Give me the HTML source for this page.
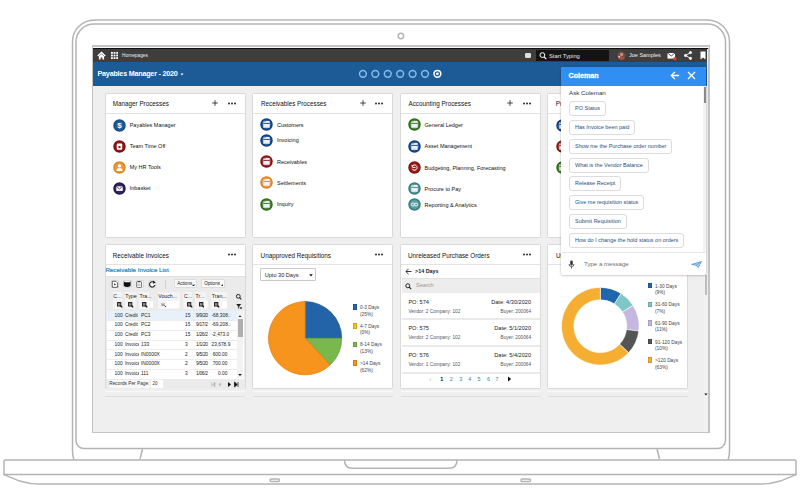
<!DOCTYPE html>
<html><head><meta charset="utf-8">
<style>
*{margin:0;padding:0;box-sizing:border-box}
html,body{width:800px;height:498px;overflow:hidden;background:#fff;font-family:"Liberation Sans",sans-serif}
.a{position:absolute;white-space:nowrap}
#frame{position:absolute;left:0;top:0}
#scr{position:absolute;left:92px;top:45px;width:618px;height:388px;background:#c4c4c4}
#in{position:absolute;left:1px;top:3px;width:614.8px;height:384px;background:#efefef;overflow:hidden;border-top:1px solid #111}
#scr:before{content:"";position:absolute;left:1px;right:1px;top:1.8px;height:1.2px;background:#fafafa}
#topbar{position:absolute;left:0;top:0;width:614px;height:12.5px;background:#3e3e3e}
#bluebar{position:absolute;left:0;top:12.5px;width:614px;height:24px;background:#1d5b97}
.card{position:absolute;background:#fff;border:1px solid #d9d9d9;border-radius:1.5px}
.ct{font-size:6.3px;color:#111;line-height:7px}
.cdv{height:1px;background:#e3e3e3}
.it{font-size:5.5px;color:#111;line-height:7px}
</style></head><body>
<svg id="frame" width="800" height="498" viewBox="0 0 800 498" fill="none" stroke="#b4b4b4" stroke-width="1.5">
<path d="M74,459.6 Q72.5,456 72.5,451 V41.9 A22,22 0 0 1 94.5,19.9 H707.5 A22,22 0 0 1 729.5,41.9 V451 Q729.5,456 728,459.6"/>
<path d="M76,42 A18,18 0 0 1 94,24 H707.5 A18,18 0 0 1 725.5,42 V440.5 A8,8 0 0 1 717.5,448.5 H84 A8,8 0 0 1 76,440.5 Z"/>
<path d="M142.5,449 L140,459 M657,449 L659.5,459"/>
<path d="M4,474.5 V461.5 Q4,460 5.5,460 H794.5 Q796,460 796,461.5 V474.5 Z"/>
<path d="M4,474.5 C14,479 24,484 38,484 H762 C776,484 786,479 796,474.5"/>
<path d="M344.5,460 Q344.5,468.2 352.5,468.2 H449 Q457,468.2 457,460"/>
<rect x="270" y="479" width="9.5" height="2.5" rx="1.25"/><rect x="521" y="479" width="9.6" height="2.5" rx="1.25"/>
<circle cx="400.9" cy="36" r="2.7"/>
</svg>
<div id="scr"><div id="in">
<div id="topbar"></div>
<div id="bluebar"></div>
</div></div>
<style>
.td{font-size:4.85px;line-height:6px;color:#222}
.lg{font-size:4.8px;line-height:6.6px;color:#444}
.po{font-size:5.6px;line-height:7px;color:#222}
.pv{font-size:4.7px;line-height:6px;color:#555}
</style>
<style>
.cb{height:15px;border:0.8px solid #dcdcdc;border-radius:3px;font-size:5.5px;line-height:12.6px;color:#2a4f80;padding:0 4.8px 0 5px;background:#fff}
</style>
<!-- top bar -->
<svg class="a" style="left:97px;top:51px" width="9" height="9" viewBox="0 0 9 9"><path d="M4.5,0.6 L0.3,4.6 L1.3,5.4 L4.5,2.4 L7.7,5.4 L8.7,4.6 Z" fill="#fff"/><path d="M1.9,5.2 L4.5,2.9 L7.1,5.2 V8.4 H5.4 V6.6 H3.6 V8.4 H1.9 Z" fill="#fff"/></svg>
<svg class="a" style="left:111px;top:52px" width="7" height="7" viewBox="0 0 7 7" fill="#fff"><rect x="0" y="0" width="1.8" height="1.8"/><rect x="2.6" y="0" width="1.8" height="1.8"/><rect x="5.2" y="0" width="1.8" height="1.8"/><rect x="0" y="2.6" width="1.8" height="1.8"/><rect x="2.6" y="2.6" width="1.8" height="1.8"/><rect x="5.2" y="2.6" width="1.8" height="1.8"/><rect x="0" y="5.2" width="1.8" height="1.8"/><rect x="2.6" y="5.2" width="1.8" height="1.8"/><rect x="5.2" y="5.2" width="1.8" height="1.8"/></svg>
<div class="a t" style="left:122px;top:53.2px;font-size:4.8px;color:#eee;line-height:6px">Homepages</div>
<div class="a" style="left:525px;top:53px;width:5.5px;height:5.2px;background:#e0e0e0;border-radius:1.2px"></div>
<div class="a" style="left:536px;top:50px;width:73px;height:10.5px;background:#141414"></div>
<svg class="a" style="left:538.5px;top:52px" width="8" height="8" viewBox="0 0 8 8" fill="none" stroke="#fff" stroke-width="1"><circle cx="3.4" cy="3.1" r="2.4"/><path d="M5.1,4.9 L7.3,7.2" stroke-width="1.2"/></svg>
<div class="a t" style="left:549px;top:52.7px;font-size:5.8px;color:#e8e8e8;line-height:6px">Start Typing</div>
<svg class="a" style="left:616.5px;top:51.3px" width="9" height="9" viewBox="0 0 9 9"><circle cx="4.5" cy="4.5" r="4.2" fill="#6a4a44"/><circle cx="4.6" cy="3.6" r="1.8" fill="#c98a78"/><path d="M1.3,8 Q2,5.6 4.5,5.6 Q7,5.6 7.7,8 Q4.5,9.6 1.3,8 Z" fill="#b8483a"/><circle cx="2.2" cy="5.8" r="1" fill="#e8d0c8"/></svg>
<div class="a t" style="left:629px;top:52px;font-size:5.5px;color:#f2f2f2;line-height:6px">Joe Samples</div>
<svg class="a" style="left:667px;top:51.5px" width="10" height="9" viewBox="0 0 10 9"><rect x="0.5" y="1" width="7.5" height="5.6" fill="#fff"/><path d="M0.5,1 L4.25,4 L8,1" fill="none" stroke="#3e3e3e" stroke-width="0.9"/><circle cx="8" cy="6.8" r="1.8" fill="#e04020"/></svg>
<svg class="a" style="left:684px;top:51px" width="8" height="9" viewBox="0 0 8 9" fill="#fff" stroke="#fff" stroke-width="0.9"><circle cx="6.5" cy="1.6" r="1.1"/><circle cx="1.5" cy="4.5" r="1.1"/><circle cx="6.5" cy="7.4" r="1.1"/><path d="M6.5,1.6 L1.5,4.5 L6.5,7.4" fill="none"/></svg>
<svg class="a" style="left:700px;top:51px" width="6" height="9" viewBox="0 0 6 9"><path d="M0.5,0.5 H5.5 V8.5 L3,6.6 L0.5,8.5 Z" fill="#fff"/></svg>
<!-- blue bar -->
<div class="a t" style="left:97.5px;top:70.4px;font-size:7.2px;color:#fff;font-weight:bold;line-height:8px;letter-spacing:-0.22px">Payables Manager - 2020</div>
<svg class="a" style="left:180px;top:72.8px" width="4" height="3" viewBox="0 0 4 3"><path d="M0.5,0.5 H3.5 L2,2.5 Z" fill="#fff"/></svg>
<svg class="a" style="left:355px;top:66px" width="90" height="16" viewBox="355 66 90 16" fill="none" stroke="#86bdf0" stroke-width="1.45"><circle cx="362.90" cy="73.8" r="3.4"/><circle cx="375.32" cy="73.8" r="3.4"/><circle cx="387.74" cy="73.8" r="3.4"/><circle cx="400.16" cy="73.8" r="3.4"/><circle cx="412.58" cy="73.8" r="3.4"/><circle cx="425.00" cy="73.8" r="3.4"/><circle cx="437.42" cy="73.8" r="3.4" stroke="#fff" stroke-width="1.5"/><circle cx="437.42" cy="73.8" r="1.4" fill="#fff" stroke="none"/></svg>
<div class="card" style="left:105px;top:93px;width:140.5px;height:145px"></div>
<div class="a ct" style="left:112.8px;top:100.1px">Manager Processes</div>
<div class="a cdv" style="left:106px;top:112.5px;width:138.5px"></div>
<svg class="a" style="left:211.7px;top:100.2px" width="6" height="6" viewBox="0 0 6 6"><path d="M3,0.2 V5.8 M0.2,3 H5.8" stroke="#333" stroke-width="0.9"/></svg>
<svg class="a" style="left:227.8px;top:101.6px" width="8" height="3" viewBox="0 0 8 3" fill="#222"><circle cx="1" cy="1.5" r="0.95"/><circle cx="4" cy="1.5" r="0.95"/><circle cx="7" cy="1.5" r="0.95"/></svg>
<svg class="a" style="left:112.80px;top:118.50px" width="13" height="13" viewBox="0 0 13 13"><circle cx="6.5" cy="6.5" r="5.5" fill="#1f5c9e" stroke="#174a82" stroke-width="1.5"/><text x="6.5" y="9.3" font-family="Liberation Sans" font-weight="bold" font-size="8" fill="#fff" text-anchor="middle">$</text></svg><div class="a it" style="left:129.7px;top:122.00px">Payables Manager</div>
<svg class="a" style="left:112.80px;top:139.80px" width="13" height="13" viewBox="0 0 13 13"><circle cx="6.5" cy="6.5" r="5.5" fill="#8e1b1b" stroke="#7a1414" stroke-width="1.5"/><rect x="3.8" y="3.4" width="5.4" height="6.4" rx="1" fill="#fff"/><rect x="5.5" y="6" width="2" height="2.2" fill="#8e1b1b"/></svg><div class="a it" style="left:129.7px;top:143.30px">Team Time Off</div>
<svg class="a" style="left:112.80px;top:160.80px" width="13" height="13" viewBox="0 0 13 13"><circle cx="6.5" cy="6.5" r="5.5" fill="#eb9a30" stroke="#d9862a" stroke-width="1.5"/><circle cx="6.5" cy="4.9" r="1.7" fill="#fff"/><path d="M3.3,10 Q3.5,7.2 6.5,7.1 Q9.5,7.2 9.7,10 Z" fill="#fff"/></svg><div class="a it" style="left:129.7px;top:164.30px">My HR Tools</div>
<svg class="a" style="left:112.80px;top:181.90px" width="13" height="13" viewBox="0 0 13 13"><circle cx="6.5" cy="6.5" r="5.5" fill="#35245e" stroke="#281a4c" stroke-width="1.5"/><rect x="3.3" y="4.3" width="6.4" height="4.6" fill="#fff"/><path d="M3.3,4.4 L6.5,7 L9.7,4.4" fill="none" stroke="#35245e" stroke-width="0.8"/></svg><div class="a it" style="left:129.7px;top:185.40px">Inbasket</div>
<div class="card" style="left:252px;top:93px;width:141px;height:145px"></div>
<div class="a ct" style="left:261px;top:100.1px">Receivables Processes</div>
<div class="a cdv" style="left:253px;top:112.5px;width:139px"></div>
<svg class="a" style="left:359.7px;top:100.2px" width="6" height="6" viewBox="0 0 6 6"><path d="M3,0.2 V5.8 M0.2,3 H5.8" stroke="#333" stroke-width="0.9"/></svg>
<svg class="a" style="left:375px;top:101.6px" width="8" height="3" viewBox="0 0 8 3" fill="#222"><circle cx="1" cy="1.5" r="0.95"/><circle cx="4" cy="1.5" r="0.95"/><circle cx="7" cy="1.5" r="0.95"/></svg>
<svg class="a" style="left:260.40px;top:118.40px" width="13" height="13" viewBox="0 0 13 13"><circle cx="6.5" cy="6.5" r="5.5" fill="#2a62a8" stroke="#163f78" stroke-width="1.5"/><path d="M3.3,3.6 H5.6 L6.2,3 H9.7 V9.8 H3.3 Z" fill="#eef2f8"/><rect x="3.3" y="4.9" width="6.4" height="0.9" fill="#163f78"/></svg><div class="a it" style="left:277px;top:121.90px">Customers</div>
<svg class="a" style="left:260.40px;top:133.80px" width="13" height="13" viewBox="0 0 13 13"><circle cx="6.5" cy="6.5" r="5.5" fill="#2a62a8" stroke="#163f78" stroke-width="1.5"/><path d="M3.3,3.6 H5.6 L6.2,3 H9.7 V9.8 H3.3 Z" fill="#eef2f8"/><rect x="3.3" y="4.9" width="6.4" height="0.9" fill="#163f78"/></svg><div class="a it" style="left:277px;top:137.30px">Invoicing</div>
<svg class="a" style="left:260.40px;top:155.00px" width="13" height="13" viewBox="0 0 13 13"><circle cx="6.5" cy="6.5" r="5.5" fill="#a83434" stroke="#7c1616" stroke-width="1.5"/><path d="M3.3,3.6 H5.6 L6.2,3 H9.7 V9.8 H3.3 Z" fill="#eef2f8"/><rect x="3.3" y="4.9" width="6.4" height="0.9" fill="#7c1616"/></svg><div class="a it" style="left:277px;top:158.50px">Receivables</div>
<svg class="a" style="left:260.40px;top:176.20px" width="13" height="13" viewBox="0 0 13 13"><circle cx="6.5" cy="6.5" r="5.5" fill="#f0a050" stroke="#d9822a" stroke-width="1.5"/><path d="M3.3,3.6 H5.6 L6.2,3 H9.7 V9.8 H3.3 Z" fill="#eef2f8"/><rect x="3.3" y="4.9" width="6.4" height="0.9" fill="#d9822a"/></svg><div class="a it" style="left:277px;top:179.70px">Settlements</div>
<svg class="a" style="left:260.40px;top:197.80px" width="13" height="13" viewBox="0 0 13 13"><circle cx="6.5" cy="6.5" r="5.5" fill="#4f8f3a" stroke="#2f6a1f" stroke-width="1.5"/><path d="M3.3,3.6 H5.6 L6.2,3 H9.7 V9.8 H3.3 Z" fill="#eef2f8"/><rect x="3.3" y="4.9" width="6.4" height="0.9" fill="#2f6a1f"/></svg><div class="a it" style="left:277px;top:201.30px">Inquiry</div>
<div class="card" style="left:400px;top:93px;width:140.5px;height:145px"></div>
<div class="a ct" style="left:408.5px;top:100.1px">Accounting Processes</div>
<div class="a cdv" style="left:401px;top:112.5px;width:138.5px"></div>
<svg class="a" style="left:506.7px;top:100.2px" width="6" height="6" viewBox="0 0 6 6"><path d="M3,0.2 V5.8 M0.2,3 H5.8" stroke="#333" stroke-width="0.9"/></svg>
<svg class="a" style="left:522.5px;top:101.6px" width="8" height="3" viewBox="0 0 8 3" fill="#222"><circle cx="1" cy="1.5" r="0.95"/><circle cx="4" cy="1.5" r="0.95"/><circle cx="7" cy="1.5" r="0.95"/></svg>
<svg class="a" style="left:407.80px;top:118.40px" width="13" height="13" viewBox="0 0 13 13"><circle cx="6.5" cy="6.5" r="5.5" fill="#4f8f3a" stroke="#2f6a1f" stroke-width="1.5"/><path d="M3.3,3.6 H5.6 L6.2,3 H9.7 V9.8 H3.3 Z" fill="#eef2f8"/><rect x="3.3" y="4.9" width="6.4" height="0.9" fill="#2f6a1f"/></svg><div class="a it" style="left:424.6px;top:121.90px">General Ledger</div>
<svg class="a" style="left:407.80px;top:139.50px" width="13" height="13" viewBox="0 0 13 13"><circle cx="6.5" cy="6.5" r="5.5" fill="#2a62a8" stroke="#163f78" stroke-width="1.5"/><path d="M3.3,3.6 H5.6 L6.2,3 H9.7 V9.8 H3.3 Z" fill="#eef2f8"/><rect x="3.3" y="4.9" width="6.4" height="0.9" fill="#163f78"/></svg><div class="a it" style="left:424.6px;top:143.00px">Asset Management</div>
<svg class="a" style="left:407.80px;top:161.10px" width="13" height="13" viewBox="0 0 13 13"><circle cx="6.5" cy="6.5" r="5.5" fill="#a02020" stroke="#7c1414" stroke-width="1.5"/><path d="M4.3,5.2 A2.6,2.6 0 1 1 4.2,7.8" fill="none" stroke="#fff" stroke-width="1"/><path d="M3.2,4.2 L5.4,4.4 L4.6,6.4 Z" fill="#fff"/><rect x="4.5" y="6.1" width="3" height="0.9" fill="#fff"/></svg><div class="a it" style="left:424.6px;top:164.60px">Budgeting, Planning, Forecasting</div>
<svg class="a" style="left:407.80px;top:182.00px" width="13" height="13" viewBox="0 0 13 13"><circle cx="6.5" cy="6.5" r="5.5" fill="#5a9ea0" stroke="#3a7e82" stroke-width="1.5"/><path d="M3.3,3.6 H5.6 L6.2,3 H9.7 V9.8 H3.3 Z" fill="#eef2f8"/><rect x="3.3" y="4.9" width="6.4" height="0.9" fill="#3a7e82"/></svg><div class="a it" style="left:424.6px;top:185.50px">Procure to Pay</div>
<svg class="a" style="left:407.80px;top:198.10px" width="13" height="13" viewBox="0 0 13 13"><circle cx="6.5" cy="6.5" r="5.5" fill="#5a9ea0" stroke="#3a7e82" stroke-width="1.5"/><circle cx="4.9" cy="6.5" r="1.5" fill="none" stroke="#fff" stroke-width="0.9"/><circle cx="8.1" cy="6.5" r="1.5" fill="none" stroke="#fff" stroke-width="0.9"/></svg><div class="a it" style="left:424.6px;top:201.60px">Reporting &amp; Analytics</div>
<div class="card" style="left:547px;top:93px;width:141px;height:145px"></div>
<div class="a ct" style="left:555.8px;top:100.1px">Project</div>
<div class="a cdv" style="left:548px;top:112.5px;width:139px"></div>
<svg class="a" style="left:660px;top:101.6px" width="8" height="3" viewBox="0 0 8 3" fill="#222"><circle cx="1" cy="1.5" r="0.95"/><circle cx="4" cy="1.5" r="0.95"/><circle cx="7" cy="1.5" r="0.95"/></svg>
<svg class="a" style="left:555.50px;top:118.50px" width="13" height="13" viewBox="0 0 13 13"><circle cx="6.5" cy="6.5" r="5.5" fill="#2a62a8" stroke="#163f78" stroke-width="1.5"/><path d="M3.3,3.6 H5.6 L6.2,3 H9.7 V9.8 H3.3 Z" fill="#eef2f8"/><rect x="3.3" y="4.9" width="6.4" height="0.9" fill="#163f78"/></svg><svg class="a" style="left:555.50px;top:139.50px" width="13" height="13" viewBox="0 0 13 13"><circle cx="6.5" cy="6.5" r="5.5" fill="#a83434" stroke="#7c1616" stroke-width="1.5"/><path d="M3.3,3.6 H5.6 L6.2,3 H9.7 V9.8 H3.3 Z" fill="#eef2f8"/><rect x="3.3" y="4.9" width="6.4" height="0.9" fill="#7c1616"/></svg><svg class="a" style="left:555.50px;top:160.50px" width="13" height="13" viewBox="0 0 13 13"><circle cx="6.5" cy="6.5" r="5.5" fill="#4f8f3a" stroke="#2f6a1f" stroke-width="1.5"/><path d="M3.3,3.6 H5.6 L6.2,3 H9.7 V9.8 H3.3 Z" fill="#eef2f8"/><rect x="3.3" y="4.9" width="6.4" height="0.9" fill="#2f6a1f"/></svg><div class="card" style="left:105px;top:244px;width:140.5px;height:145px"></div>
<div class="a ct" style="left:112.8px;top:251.9px">Receivable Invoices</div>
<div class="a cdv" style="left:106px;top:264.3px;width:138.5px"></div>
<svg class="a" style="left:227.8px;top:253.4px" width="8" height="3" viewBox="0 0 8 3" fill="#222"><circle cx="1" cy="1.5" r="0.95"/><circle cx="4" cy="1.5" r="0.95"/><circle cx="7" cy="1.5" r="0.95"/></svg>
<div class="a" style="left:105.4px;top:266px;font-size:6.2px;line-height:7px;color:#1787c6;-webkit-text-stroke:0.2px #1787c6">Receivable Invoice List</div>
<div class="a" style="left:106px;top:275.5px;width:138.5px;height:113px;background:#ebebeb;border-top:1px solid #e0e0e0"></div>
<div class="a" style="left:110.5px;top:279.8px;width:8.5px;height:8.5px;background:#fafafa;border:0.6px solid #d8d8d8;border-radius:1px"></div>
<div class="a" style="left:123px;top:279.8px;width:8.5px;height:8.5px;background:#fafafa;border:0.6px solid #d8d8d8;border-radius:1px"></div>
<div class="a" style="left:135.5px;top:279.8px;width:8.5px;height:8.5px;background:#fafafa;border:0.6px solid #d8d8d8;border-radius:1px"></div>
<div class="a" style="left:147.5px;top:279.8px;width:8.5px;height:8.5px;background:#fafafa;border:0.6px solid #d8d8d8;border-radius:1px"></div>
<svg class="a" style="left:0;top:0" width="800" height="498" viewBox="0 0 800 498"><path d="M112.3,281.3 H115.9 L117.6,283 V287.3 H112.3 Z" fill="#fff" stroke="#333" stroke-width="0.75" stroke-linejoin="round"/><path d="M114.2,283.2 L116,284.4 L114.2,285.6 Z" fill="#222"/><path d="M123.8,281.2 L125,282.3 H129.4 L130.6,281.2 V286 Q127.2,288.2 123.8,286 Z" fill="#111"/><rect x="136.7" y="281.6" width="4.8" height="5.8" rx="0.6" fill="#fff" stroke="#444" stroke-width="0.7"/><rect x="137.9" y="281" width="2.4" height="1.2" fill="#444"/><path d="M137.7,284 H140.5 M137.7,285.4 H140.5" stroke="#666" stroke-width="0.45"/><path d="M154.3,282.6 A2.7,2.7 0 1 0 154.9,285" fill="none" stroke="#111" stroke-width="1.05"/><path d="M153,280.8 L155.6,282.2 L153.4,284 Z" fill="#111"/></svg>
<div class="a" style="left:165px;top:279.5px;width:0.8px;height:9px;background:#d0d0d0"></div>
<div class="a" style="left:173.8px;top:279.4px;width:23.2px;height:8.2px;background:#f9f9f9;border:0.6px solid #dcdcdc;border-radius:1px;font-size:4.6px;line-height:7px;color:#222;padding-left:2.4px">Actions<svg style="position:absolute;right:1.4px;top:3.4px" width="2.4" height="2" viewBox="0 0 2.4 2"><path d="M2.4,0 V2 H0 Z" fill="#111"/></svg></div>
<div class="a" style="left:200.8px;top:279.4px;width:24.7px;height:8.2px;background:#f9f9f9;border:0.6px solid #dcdcdc;border-radius:1px;font-size:4.6px;line-height:7px;color:#222;padding-left:2.4px">Options<svg style="position:absolute;right:1.4px;top:3.4px" width="2.4" height="2" viewBox="0 0 2.4 2"><path d="M2.4,0 V2 H0 Z" fill="#111"/></svg></div>
<div class="a" style="left:112.5px;top:291.8px;width:9px;height:17px;background:#f4f4f4"></div>
<div class="a" style="left:113.3px;top:292.6px;font-size:5.2px;line-height:6px;color:#222">C...</div>
<div class="a" style="left:124.5px;top:291.8px;width:11px;height:17px;background:#f4f4f4"></div>
<div class="a" style="left:125.3px;top:292.6px;font-size:5.2px;line-height:6px;color:#222">Type</div>
<div class="a" style="left:138.8px;top:291.8px;width:10.5px;height:17px;background:#f4f4f4"></div>
<div class="a" style="left:139.60000000000002px;top:292.6px;font-size:5.2px;line-height:6px;color:#222">Tra...</div>
<div class="a" style="left:157.5px;top:291.8px;width:22px;height:17px;background:#f4f4f4"></div>
<div class="a" style="left:158.3px;top:292.6px;font-size:5.2px;line-height:6px;color:#222">Vouch...</div>
<div class="a" style="left:183.3px;top:291.8px;width:8.5px;height:17px;background:#f4f4f4"></div>
<div class="a" style="left:184.10000000000002px;top:292.6px;font-size:5.2px;line-height:6px;color:#222">C...</div>
<div class="a" style="left:194.8px;top:291.8px;width:11px;height:17px;background:#f4f4f4"></div>
<div class="a" style="left:195.60000000000002px;top:292.6px;font-size:5.2px;line-height:6px;color:#222">Tr...</div>
<div class="a" style="left:211px;top:291.8px;width:16px;height:17px;background:#f4f4f4"></div>
<div class="a" style="left:211.8px;top:292.6px;font-size:5.2px;line-height:6px;color:#222">Tran...</div>
<svg class="a" style="left:117px;top:301.5px" width="6" height="6" viewBox="0 0 6 6"><rect x="0.6" y="0.6" width="3.2" height="3.4" fill="none" stroke="#111" stroke-width="1"/><path d="M1.3,1.7 H3.1 M1.3,2.9 H3.1" stroke="#111" stroke-width="0.6"/><path d="M3.6,3.8 L5.2,5.4" stroke="#111" stroke-width="1.3"/></svg>
<svg class="a" style="left:128px;top:301.5px" width="6" height="6" viewBox="0 0 6 6"><rect x="0.6" y="0.6" width="3.2" height="3.4" fill="none" stroke="#111" stroke-width="1"/><path d="M1.3,1.7 H3.1 M1.3,2.9 H3.1" stroke="#111" stroke-width="0.6"/><path d="M3.6,3.8 L5.2,5.4" stroke="#111" stroke-width="1.3"/></svg>
<svg class="a" style="left:142px;top:301.5px" width="6" height="6" viewBox="0 0 6 6"><rect x="0.6" y="0.6" width="3.2" height="3.4" fill="none" stroke="#111" stroke-width="1"/><path d="M1.3,1.7 H3.1 M1.3,2.9 H3.1" stroke="#111" stroke-width="0.6"/><path d="M3.6,3.8 L5.2,5.4" stroke="#111" stroke-width="1.3"/></svg>
<svg class="a" style="left:186.5px;top:301.5px" width="6" height="6" viewBox="0 0 6 6"><rect x="0.6" y="0.6" width="3.2" height="3.4" fill="none" stroke="#111" stroke-width="1"/><path d="M1.3,1.7 H3.1 M1.3,2.9 H3.1" stroke="#111" stroke-width="0.6"/><path d="M3.6,3.8 L5.2,5.4" stroke="#111" stroke-width="1.3"/></svg>
<svg class="a" style="left:198.5px;top:301.5px" width="6" height="6" viewBox="0 0 6 6"><rect x="0.6" y="0.6" width="3.2" height="3.4" fill="none" stroke="#111" stroke-width="1"/><path d="M1.3,1.7 H3.1 M1.3,2.9 H3.1" stroke="#111" stroke-width="0.6"/><path d="M3.6,3.8 L5.2,5.4" stroke="#111" stroke-width="1.3"/></svg>
<svg class="a" style="left:214px;top:301.5px" width="6" height="6" viewBox="0 0 6 6"><rect x="0.6" y="0.6" width="3.2" height="3.4" fill="none" stroke="#111" stroke-width="1"/><path d="M1.3,1.7 H3.1 M1.3,2.9 H3.1" stroke="#111" stroke-width="0.6"/><path d="M3.6,3.8 L5.2,5.4" stroke="#111" stroke-width="1.3"/></svg>
<div class="a" style="left:148px;top:301px;width:4.5px;height:7px;background:#fff"></div>
<div class="a" style="left:167px;top:301px;width:12px;height:7px;background:#fff"></div>
<div class="a" style="left:204px;top:301px;width:4px;height:7px;background:#fff"></div>
<div class="a" style="left:222px;top:301px;width:5px;height:7px;background:#fff"></div>
<svg class="a" style="left:160.8px;top:301.5px" width="6" height="6" viewBox="0 0 6 6"><path d="M1,1 V4 M2,2 V4 M3,1 V4" stroke="#333" stroke-width="0.5"/><path d="M3.5,3.5 L5,5" stroke="#222" stroke-width="0.9"/></svg>
<svg class="a" style="left:235px;top:292.5px" width="8" height="17" viewBox="0 0 8 17"><circle cx="3.3" cy="3.3" r="1.9" fill="none" stroke="#222" stroke-width="1"/><path d="M4.6,4.6 L6.3,6.3" stroke="#222" stroke-width="1.1"/><path d="M1.2,11 H6.2 L4.2,13.4 V15.4 H3.2 V13.4 Z" fill="#222"/><circle cx="6" cy="15" r="0.9" fill="#222"/></svg>
<div class="a" style="left:106.5px;top:310.5px;width:137px;height:68.5px;background:#fff"></div>
<div class="a" style="left:106.5px;top:311px;width:130px;height:9px;background:#e8f1fa"></div>
<div class="a td" style="left:114.5px;top:312.9px">100</div><div class="a td" style="left:125px;top:312.9px;width:14px;overflow:hidden">Credit</div><div class="a td" style="left:141px;top:312.9px">PC1</div><div class="a td" style="left:185px;top:312.9px">15</div><div class="a td" style="left:196px;top:312.9px;width:12.5px;overflow:hidden;letter-spacing:-0.3px">9/9/20</div><div class="a td" style="left:211.5px;top:312.9px">-68,308.:</div>
<div class="a" style="left:106.5px;top:320.2px;width:130px;height:0.6px;background:#ececec"></div>
<div class="a td" style="left:114.5px;top:322.4px">100</div><div class="a td" style="left:125px;top:322.4px;width:14px;overflow:hidden">Credit</div><div class="a td" style="left:141px;top:322.4px">PC2</div><div class="a td" style="left:185px;top:322.4px">15</div><div class="a td" style="left:196px;top:322.4px;width:12.5px;overflow:hidden;letter-spacing:-0.3px">9/17/2</div><div class="a td" style="left:211.5px;top:322.4px">-69,208.:</div>
<div class="a" style="left:106.5px;top:329.8px;width:130px;height:0.6px;background:#ececec"></div>
<div class="a td" style="left:114.5px;top:332px">100</div><div class="a td" style="left:125px;top:332px;width:14px;overflow:hidden">Credit</div><div class="a td" style="left:141px;top:332px">PC3</div><div class="a td" style="left:185px;top:332px">15</div><div class="a td" style="left:196px;top:332px;width:12.5px;overflow:hidden;letter-spacing:-0.3px">1/26/2</div><div class="a td" style="left:211.5px;top:332px">-2,473.0</div>
<div class="a" style="left:106.5px;top:339.6px;width:130px;height:0.6px;background:#ececec"></div>
<div class="a td" style="left:114.5px;top:341.8px">100</div><div class="a td" style="left:125px;top:341.8px;width:14px;overflow:hidden">Invoice</div><div class="a td" style="left:141px;top:341.8px">133</div><div class="a td" style="left:185px;top:341.8px">3</div><div class="a td" style="left:196px;top:341.8px;width:12.5px;overflow:hidden;letter-spacing:-0.3px">1/1/20</div><div class="a td" style="left:211.5px;top:341.8px">23,678.9</div>
<div class="a" style="left:106.5px;top:349.4px;width:130px;height:0.6px;background:#ececec"></div>
<div class="a td" style="left:114.5px;top:351.6px">100</div><div class="a td" style="left:125px;top:351.6px;width:14px;overflow:hidden">Invoice</div><div class="a td" style="left:141px;top:351.6px">IN0000X</div><div class="a td" style="left:185px;top:351.6px">2</div><div class="a td" style="left:196px;top:351.6px;width:12.5px;overflow:hidden;letter-spacing:-0.3px">9/5/20</div><div class="a td" style="left:207px;top:351.6px;width:20.5px;text-align:right">600.00</div>
<div class="a" style="left:106.5px;top:359.0px;width:130px;height:0.6px;background:#ececec"></div>
<div class="a td" style="left:114.5px;top:361.2px">100</div><div class="a td" style="left:125px;top:361.2px;width:14px;overflow:hidden">Invoice</div><div class="a td" style="left:141px;top:361.2px">IN0000X</div><div class="a td" style="left:185px;top:361.2px">2</div><div class="a td" style="left:196px;top:361.2px;width:12.5px;overflow:hidden;letter-spacing:-0.3px">9/5/20</div><div class="a td" style="left:207px;top:361.2px;width:20.5px;text-align:right">700.00</div>
<div class="a" style="left:106.5px;top:368.6px;width:130px;height:0.6px;background:#ececec"></div>
<div class="a td" style="left:114.5px;top:370.8px">100</div><div class="a td" style="left:125px;top:370.8px;width:14px;overflow:hidden">Invoice</div><div class="a td" style="left:141px;top:370.8px">111</div><div class="a td" style="left:185px;top:370.8px">3</div><div class="a td" style="left:196px;top:370.8px;width:12.5px;overflow:hidden;letter-spacing:-0.3px">1/06/2</div><div class="a td" style="left:207px;top:370.8px;width:20.5px;text-align:right">0.00</div>
<div class="a" style="left:237px;top:311px;width:6px;height:67px;background:#f2f2f2"></div>
<div class="a" style="left:237.8px;top:318.7px;width:4.8px;height:18.5px;background:#b0b0b0"></div>
<svg class="a" style="left:237px;top:312.5px" width="6" height="65" viewBox="0 0 6 65"><path d="M1.5,4 L3,2.3 L4.5,4 Z" fill="#222"/><path d="M1.2,61 L3,63 L4.8,61 Z" fill="#111"/></svg>
<div class="a" style="left:106.5px;top:379px;width:137px;height:9px;background:#ebebeb"></div>
<div class="a" style="left:108.5px;top:380px;width:41px;height:7.5px;background:#f8f8f8;font-size:4.75px;line-height:7.5px;color:#333;padding-left:0.8px">Records Per Page:</div>
<div class="a" style="left:151px;top:380px;width:11.5px;height:7.5px;background:#fff;font-size:4.5px;line-height:7.5px;color:#333;padding-left:1.5px">20</div>
<svg class="a" style="left:210px;top:380.5px" width="30" height="7" viewBox="0 0 30 7"><path d="M1.5,1 V6 M5,1 L2.4,3.5 L5,6 Z" fill="#bbb" stroke="#bbb" stroke-width="0.6"/><path d="M11,1.2 L8.5,3.5 L11,5.8 Z" fill="#bbb"/><path d="M18,1 L21,3.5 L18,6 Z" fill="#111"/><path d="M24.5,1 L27.3,3.5 L24.5,6 Z M28,1 V6" fill="#111" stroke="#111" stroke-width="0.7"/></svg>
<div class="card" style="left:252px;top:244px;width:141px;height:145px"></div>
<div class="a ct" style="left:260.6px;top:251.9px">Unapproved Requisitions</div>
<div class="a cdv" style="left:253px;top:264.3px;width:139px"></div>
<svg class="a" style="left:375.3px;top:253.4px" width="8" height="3" viewBox="0 0 8 3" fill="#222"><circle cx="1" cy="1.5" r="0.95"/><circle cx="4" cy="1.5" r="0.95"/><circle cx="7" cy="1.5" r="0.95"/></svg>
<div class="a" style="left:260.2px;top:268.1px;width:56px;height:13.3px;background:#fff;border:0.8px solid #c9c9c9;border-radius:1px;font-size:5.6px;line-height:12.3px;color:#222;padding-left:3.5px">Upto 30 Days</div>
<svg class="a" style="left:308.5px;top:273.5px" width="4" height="3" viewBox="0 0 4 3"><path d="M0.2,0.3 H3.8 L2,2.6 Z" fill="#111"/></svg>
<svg class="a" style="left:0;top:0" width="800" height="498" viewBox="0 0 800 498"><path d="M305.1,338.2 L305.10,301.60 A36.6,36.6 0 0 1 341.70,338.20 Z" fill="#2364a8" stroke="#1b4f88" stroke-width="0.7" stroke-linejoin="round"/><path d="M305.1,338.2 L341.70,338.20 A36.6,36.6 0 0 1 330.15,364.88 Z" fill="#79b84c" stroke="#5f9a36" stroke-width="0.7" stroke-linejoin="round"/><path d="M305.1,338.2 L330.15,364.88 A36.6,36.6 0 1 1 305.10,301.60 Z" fill="#f7941d" stroke="#e27d0c" stroke-width="0.7" stroke-linejoin="round"/></svg>
<div class="a" style="left:352.8px;top:304.3px;width:4px;height:5.6px;background:#2364a8;box-shadow:inset 0 0 0 0.5px rgba(0,0,0,0.25)"></div><div class="a lg" style="left:360px;top:305.1px">0-3 Days<br>(25%)</div>
<div class="a" style="left:352.8px;top:323.0px;width:4px;height:5.6px;background:#f4c21b;box-shadow:inset 0 0 0 0.5px rgba(0,0,0,0.25)"></div><div class="a lg" style="left:360px;top:323.8px">4-7 Days<br>(0%)</div>
<div class="a" style="left:352.8px;top:341.6px;width:4px;height:5.6px;background:#79b84c;box-shadow:inset 0 0 0 0.5px rgba(0,0,0,0.25)"></div><div class="a lg" style="left:360px;top:342.4px">8-14 Days<br>(13%)</div>
<div class="a" style="left:352.8px;top:360.3px;width:4px;height:5.6px;background:#f7941d;box-shadow:inset 0 0 0 0.5px rgba(0,0,0,0.25)"></div><div class="a lg" style="left:360px;top:361.1px">&gt;14 Days<br>(62%)</div>
<div class="card" style="left:400px;top:244px;width:140.5px;height:145px"></div>
<div class="a ct" style="left:408px;top:251.9px">Unreleased Purchase Orders</div>
<div class="a cdv" style="left:401px;top:264.3px;width:138.5px"></div>
<svg class="a" style="left:522.7px;top:253.4px" width="8" height="3" viewBox="0 0 8 3" fill="#222"><circle cx="1" cy="1.5" r="0.95"/><circle cx="4" cy="1.5" r="0.95"/><circle cx="7" cy="1.5" r="0.95"/></svg>
<svg class="a" style="left:404.5px;top:268px" width="7" height="7" viewBox="0 0 7 7"><path d="M6.5,3.5 H1 M3.6,0.8 L0.9,3.5 L3.6,6.2" fill="none" stroke="#222" stroke-width="0.9"/></svg>
<div class="a" style="left:415px;top:268px;font-size:5.4px;line-height:7px;color:#222;font-weight:bold">&gt;14 Days</div>
<div class="a" style="left:402px;top:278.3px;width:137.5px;height:0.8px;background:#e2e2e2"></div>
<div class="a" style="left:402px;top:279px;width:137.5px;height:13.5px;background:#ededed"></div>
<svg class="a" style="left:404.5px;top:282.5px" width="7" height="7" viewBox="0 0 7 7"><circle cx="2.8" cy="2.8" r="2" fill="none" stroke="#222" stroke-width="1"/><path d="M4.2,4.2 L6.2,6.2" stroke="#222" stroke-width="1.1"/></svg>
<div class="a" style="left:416px;top:282.3px;font-size:5.6px;line-height:7px;color:#999">Search</div>
<div class="a po" style="left:408.4px;top:298.7px">PO: 574</div><div class="a po" style="left:470px;top:298.7px;width:61px;text-align:right">Date: 4/30/2020</div><div class="a pv" style="left:408.4px;top:308.5px">Vendor: 2 Company: 102</div><div class="a pv" style="left:480px;top:308.5px;width:51px;text-align:right">Buyer: 200064</div>
<div class="a po" style="left:408.4px;top:325.2px">PO: 575</div><div class="a po" style="left:470px;top:325.2px;width:61px;text-align:right">Date: 5/1/2020</div><div class="a pv" style="left:408.4px;top:335.0px">Vendor: 2 Company: 102</div><div class="a pv" style="left:480px;top:335.0px;width:51px;text-align:right">Buyer: 200064</div>
<div class="a po" style="left:408.4px;top:351.7px">PO: 576</div><div class="a po" style="left:470px;top:351.7px;width:61px;text-align:right">Date: 5/4/2020</div><div class="a pv" style="left:408.4px;top:361.5px">Vendor: 1 Company: 102</div><div class="a pv" style="left:480px;top:361.5px;width:51px;text-align:right">Buyer: 200064</div>
<div class="a" style="left:402px;top:318px;width:137.5px;height:2px;background:#eaeaea"></div>
<div class="a" style="left:402px;top:345px;width:137.5px;height:2px;background:#eaeaea"></div>
<div class="a" style="left:402px;top:371.8px;width:137.5px;height:2px;background:#eaeaea"></div>
<div class="a" style="left:428px;top:376px;width:90px;font-size:5.4px;line-height:7px;color:#3d7f95"><span style="position:absolute;left:1px;top:0.5px;color:#c4c4c4;font-size:7px;line-height:6px">&lsaquo;</span><span style="position:absolute;left:12.2px;color:#111;font-weight:bold">1</span><span style="position:absolute;left:21.8px">2</span><span style="position:absolute;left:31.2px">3</span><span style="position:absolute;left:40.3px">4</span><span style="position:absolute;left:49.5px">5</span><span style="position:absolute;left:59px">6</span><span style="position:absolute;left:67.5px">7</span></div>
<svg class="a" style="left:506.6px;top:376.2px" width="5" height="6" viewBox="0 0 5 6"><path d="M1,0.5 L4.2,3 L1,5.5 Z" fill="#111"/></svg>
<div class="card" style="left:547px;top:244px;width:141px;height:145px"></div>
<div class="a ct" style="left:556px;top:251.9px">Unposted Journal</div>
<div class="a cdv" style="left:548px;top:264.3px;width:139px"></div>
<svg class="a" style="left:670px;top:253.4px" width="8" height="3" viewBox="0 0 8 3" fill="#222"><circle cx="1" cy="1.5" r="0.95"/><circle cx="4" cy="1.5" r="0.95"/><circle cx="7" cy="1.5" r="0.95"/></svg>
<svg class="a" style="left:0;top:0" width="800" height="498" viewBox="0 0 800 498"><path d="M600.30,287.40 A38.8,38.8 0 0 1 621.09,293.44 L614.45,303.91 A26.4,26.4 0 0 0 600.30,299.80 Z" fill="#1f67ad" stroke="#fff" stroke-width="0.6"/><path d="M621.09,293.44 A38.8,38.8 0 0 1 633.06,305.41 L622.59,312.05 A26.4,26.4 0 0 0 614.45,303.91 Z" fill="#7fc6c6" stroke="#fff" stroke-width="0.6"/><path d="M633.06,305.41 A38.8,38.8 0 0 1 638.79,331.06 L626.49,329.51 A26.4,26.4 0 0 0 622.59,312.05 Z" fill="#c5b8e0" stroke="#fff" stroke-width="0.6"/><path d="M638.79,331.06 A38.8,38.8 0 0 1 628.58,352.76 L619.54,344.27 A26.4,26.4 0 0 0 626.49,329.51 Z" fill="#555555" stroke="#fff" stroke-width="0.6"/><path d="M628.58,352.76 A38.8,38.8 0 1 1 600.30,287.40 L600.30,299.80 A26.4,26.4 0 1 0 619.54,344.27 Z" fill="#f5ae32" stroke="#fff" stroke-width="0.6"/></svg>
<div class="a" style="left:648.3px;top:282.9px;width:4px;height:5.6px;background:#1f67ad;box-shadow:inset 0 0 0 0.5px rgba(0,0,0,0.25)"></div><div class="a lg" style="left:655px;top:283.7px">1-30 Days<br>(9%)</div>
<div class="a" style="left:648.3px;top:301.5px;width:4px;height:5.6px;background:#7fc6c6;box-shadow:inset 0 0 0 0.5px rgba(0,0,0,0.25)"></div><div class="a lg" style="left:655px;top:302.3px">31-60 Days<br>(7%)</div>
<div class="a" style="left:648.3px;top:320.1px;width:4px;height:5.6px;background:#c5b8e0;box-shadow:inset 0 0 0 0.5px rgba(0,0,0,0.25)"></div><div class="a lg" style="left:655px;top:320.9px">61-90 Days<br>(11%)</div>
<div class="a" style="left:648.3px;top:338.7px;width:4px;height:5.6px;background:#555555;box-shadow:inset 0 0 0 0.5px rgba(0,0,0,0.25)"></div><div class="a lg" style="left:655px;top:339.5px">91-120 Days<br>(10%)</div>
<div class="a" style="left:648.3px;top:357.3px;width:4px;height:5.6px;background:#f5ae32;box-shadow:inset 0 0 0 0.5px rgba(0,0,0,0.25)"></div><div class="a lg" style="left:655px;top:358.1px">&gt;120 Days<br>(63%)</div>
<div class="a" style="left:105px;top:395.5px;width:140px;height:1px;background:#dedede"></div>
<div class="a" style="left:253px;top:395.5px;width:140px;height:1px;background:#dedede"></div>
<div class="a" style="left:401px;top:395.5px;width:140px;height:1px;background:#dedede"></div>
<div class="a" style="left:548px;top:395.5px;width:140px;height:1px;background:#dedede"></div>
<div class="a" style="left:704.3px;top:86px;width:3px;height:346px;background:#f2f2f2"></div>
<svg class="a" style="left:704px;top:393px" width="4" height="3" viewBox="0 0 4 3"><path d="M0.3,0.5 H3.5 L1.9,2.6 Z" fill="#111"/></svg>
<div class="a" style="left:105px;top:390.5px;width:140px;height:1px;background:#f8f8f8"></div>
<div class="a" style="left:253px;top:390.5px;width:140px;height:1px;background:#f8f8f8"></div>
<div class="a" style="left:401px;top:390.5px;width:140px;height:1px;background:#f8f8f8"></div>
<div class="a" style="left:548px;top:390.5px;width:140px;height:1px;background:#f8f8f8"></div>
<div class="a" style="left:704.5px;top:275px;width:2.8px;height:20px;background:#bdbdbd"></div>
<div class="a" style="left:561px;top:67px;width:145px;height:207.8px;background:#fff;border-radius:3px 3px 2px 2px;box-shadow:0 0 2.5px rgba(0,0,0,0.22),0 1px 2px rgba(0,0,0,0.12)"></div>
<div class="a" style="left:561px;top:67px;width:145px;height:18.6px;background:#2f8ff3;border-radius:3px 3px 0 0"></div>
<div class="a" style="left:568.6px;top:71.6px;font-size:7.1px;line-height:8px;color:#fff;font-weight:bold;-webkit-text-stroke:0.3px #fff">Coleman</div>
<svg class="a" style="left:669.5px;top:71px" width="10" height="9" viewBox="0 0 10 9"><path d="M9.2,4.5 H1.5 M5,1 L1.2,4.5 L5,8" fill="none" stroke="#fff" stroke-width="1.3"/></svg>
<svg class="a" style="left:686.5px;top:71.3px" width="9" height="9" viewBox="0 0 9 9"><path d="M1,1 L8,8 M8,1 L1,8" fill="none" stroke="#fff" stroke-width="1.3"/></svg>
<div class="a" style="left:703.3px;top:86px;width:2.7px;height:166px;background:#f3f3f3"></div>
<div class="a" style="left:703.6px;top:87px;width:2.4px;height:15.5px;background:#8a8a8a"></div>
<div class="a" style="left:569px;top:89.3px;font-size:6.2px;line-height:7.5px;color:#333">Ask Coleman</div>
<div class="a cb" style="left:569px;top:100.80px">PO Status</div>
<div class="a cb" style="left:569px;top:119.70px">Has Invoice been paid</div>
<div class="a cb" style="left:569px;top:138.60px">Show me the Purchase order number</div>
<div class="a cb" style="left:569px;top:157.50px">What is the Vendor Balance</div>
<div class="a cb" style="left:569px;top:176.40px">Release Receipt</div>
<div class="a cb" style="left:569px;top:195.30px">Give me requisition status</div>
<div class="a cb" style="left:569px;top:214.20px">Submit Requisition</div>
<div class="a cb" style="left:569px;top:233.10px">How do I change the hold status on orders</div>
<div class="a" style="left:561.5px;top:252.3px;width:144px;height:0.8px;background:#e6e6e6"></div>
<svg class="a" style="left:567.5px;top:260px" width="7" height="9" viewBox="0 0 7 9"><rect x="2.2" y="0.6" width="2.6" height="4.8" rx="1.3" fill="#333"/><path d="M1,4 Q1,6.6 3.5,6.6 Q6,6.6 6,4" fill="none" stroke="#333" stroke-width="0.8"/><path d="M3.5,6.6 V8.4" stroke="#333" stroke-width="0.8"/></svg>
<div class="a" style="left:584px;top:260.3px;font-size:6.1px;line-height:7.5px;color:#6e6e6e">Type a message</div>
<svg class="a" style="left:690.5px;top:260.5px" width="11" height="7" viewBox="0 0 11 7"><path d="M0.6,3.4 L10.4,0.6 L7.4,6.4 L5,4.3 Z" fill="#a9cdf0" stroke="#4f93d8" stroke-width="0.8" stroke-linejoin="round"/><path d="M5,4.3 L10.4,0.6" stroke="#4f93d8" stroke-width="0.6"/></svg>
</body></html>
